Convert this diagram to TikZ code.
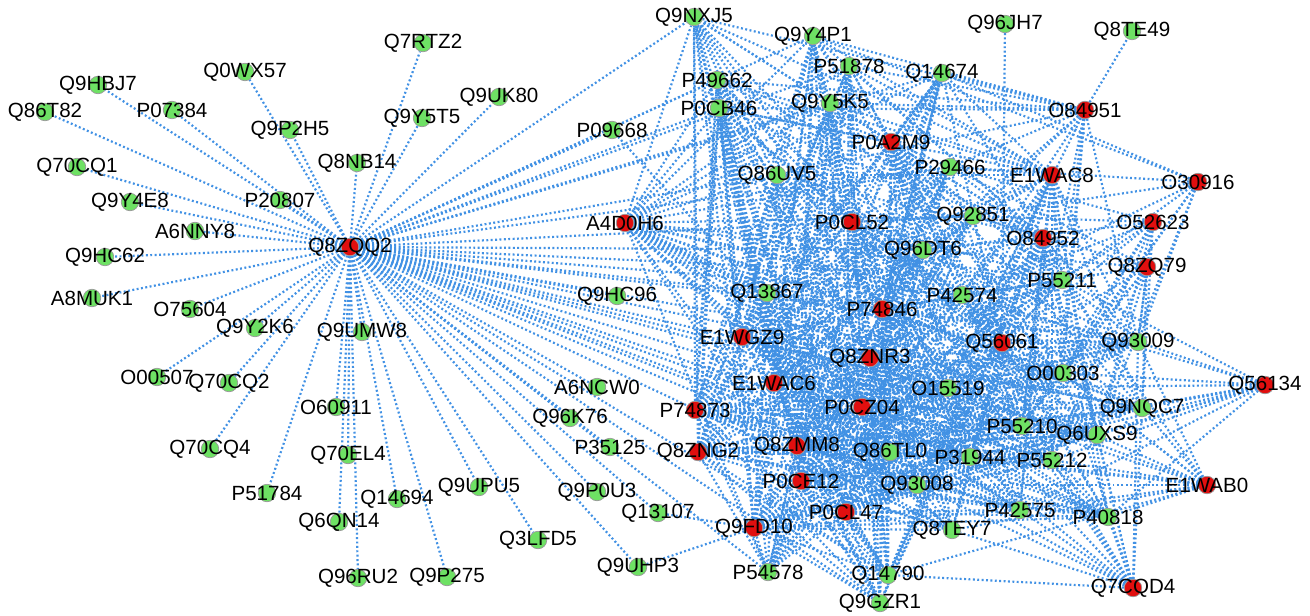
\documentclass[tikz,border=0pt]{standalone}
\usepackage{fontspec}
\setmainfont{Liberation Sans}
\usetikzlibrary{backgrounds}

\definecolor{edgeblue}{RGB}{65,145,228}
\definecolor{hostgreen}{RGB}{110,225,100}
\definecolor{pathred}{RGB}{225,15,15}

\tikzset{
  host/.style={circle,fill=hostgreen,draw=black!40,line width=0.4pt,minimum size=0.35cm,inner sep=0pt},
  pathogen/.style={host,fill=pathred},
  ppi/.style={draw=edgeblue,line width=1.25pt,dash pattern=on 1.1pt off 1.4pt},
  every label/.style={font=\fontsize{11.7}{12}\selectfont,inner sep=0pt}
}

% green partners sitting in the dense cluster
\def\hostcore{Q9NXJ5,Q9Y4P1,P51878,Q14674,P49662,P0CB46,Q9Y5K5,Q86UV5,P29466,Q92851,Q96DT6,Q13867,P42574,P55211,O15519,Q93009,O00303,Q9NQC7,P55210,Q6UXS9,Q86TL0,P31944,P55212,Q93008,P42575,P40818,Q8TEY7,Q14790,Q9GZR1,P54578}
% green partners of the hub only
\def\hostouter{Q9HBJ7,Q86T82,P07384,Q0WX57,Q7RTZ2,Q9P2H5,Q9Y5T5,Q9UK80,Q8NB14,Q70CQ1,Q9Y4E8,P20807,A6NNY8,Q9HC62,A8MUK1,O75604,Q9Y2K6,Q9UMW8,O00507,Q70CQ2,O60911,Q70CQ4,Q70EL4,P51784,Q14694,Q6QN14,Q96RU2,Q9P275,Q9UPU5,Q3LFD5,Q9UHP3,Q9P0U3,Q13107,P35125,Q96K76,A6NCW0,Q9HC96,P09668}

\begin{document}
\begin{tikzpicture}[x=0.02cm,y=-0.02cm]
\useasboundingbox (0,0) rectangle (1310,615);

% host proteins
\foreach \n/\px/\py in {Q9HBJ7/98/85,Q86T82/45/112,P07384/172/110,Q0WX57/245/72,Q7RTZ2/423/43,Q9P2H5/290/130,
  Q9Y5T5/422/118,Q9UK80/499/97,Q8NB14/357/163,Q70CQ1/77/167,Q9Y4E8/130/202,P20807/280/200,A6NNY8/195/231,
  Q9HC62/105/257,A8MUK1/92/298,O75604/190/309,Q9Y2K6/255/328,Q9UMW8/362/332,O00507/157/377,Q70CQ2/229/383,
  O60911/336/407,Q70CQ4/210/449,Q70EL4/348/455,P51784/267/493,Q14694/397/499,Q6QN14/339/522,Q96RU2/358/578,
  Q9P275/447/577,Q9UPU5/479/487,Q3LFD5/538/540,Q9UHP3/638/567,Q9P0U3/597/492,Q13107/658/513,P35125/610/447,
  Q96K76/570/418,A6NCW0/597/387,Q9HC96/617/296,P09668/612/130,
  Q9NXJ5/694/17,Q9Y4P1/813/36,P51878/849/66,Q14674/942/73,P49662/717/80,P0CB46/719/108,Q9Y5K5/830/103,
  Q86UV5/777/175,P29466/950/167,Q92851/973/216,Q96DT6/923/250,Q13867/767/293,P42574/962/295,P55211/1062/280,
  O15519/948/388,Q93009/1138/342,O00303/1063/373,Q9NQC7/1142/408,P55210/1022/426,Q6UXS9/1097/435,
  Q86TL0/890/452,P31944/970/457,P55212/1052/460,Q93008/917/485,P42575/1020/510,P40818/1108/517,
  Q8TEY7/952/530,Q14790/888/575,Q9GZR1/880/603,P54578/768/572,Q96JH7/1005/24,Q8TE49/1132/31}
  \node[host,label=center:\n] (\n) at (\px,\py) {};

% pathogen proteins
\foreach \n/\px/\py in {Q8ZQQ2/350/247,A4D0H6/625/223,P0A2M9/891/142,P0CL52/852/222,O84951/1085/110,
  E1WAC8/1052/175,O30916/1198/182,O52623/1153/222,O84952/1043/238,Q8ZQ79/1147/267,P74846/882/309,
  Q56061/1002/343,Q8ZNR3/870/358,E1WGZ9/742/337,E1WAC6/774/383,P0CZ04/862/407,P74873/695/410,
  Q8ZNG2/698/452,Q8ZMM8/797/446,P0CE12/801/481,P0CL47/846/512,Q9FD10/754/528,Q56134/1265/385,
  E1WAB0/1207/485,Q7CQD4/1133/588}
  \node[pathogen,label=center:\n] (\n) at (\px,\py) {};

\begin{scope}[on background layer]
% hub
\foreach \g in \hostouter \draw[ppi] (Q8ZQQ2) -- (\g);
\foreach \g in \hostcore \draw[ppi] (Q8ZQQ2) -- (\g);
% cluster
\foreach \r in {A4D0H6,P0A2M9,P0CL52,E1WAC8,O84952,P74846,Q56061,Q8ZNR3,E1WGZ9,E1WAC6,P0CZ04,P74873,Q8ZNG2,Q8ZMM8,P0CE12,P0CL47,Q9FD10}
  \foreach \g in \hostcore \draw[ppi] (\r) -- (\g);
% rim of the cluster
\foreach \g in {Q8TE49,Q9NXJ5,Q9Y4P1,P51878,Q14674,Q9Y5K5,P0CB46,P49662,P29466,Q92851,Q96DT6,P42574,P55211,O15519,P55210,Q93009,O00303,P55212,Q86UV5}
  \draw[ppi] (O84951) -- (\g);
\foreach \g in {P29466,Q92851,P55211,P42574,Q93009,O00303,Q14674,Q9Y4P1,P55210,Q6UXS9}
  \draw[ppi] (O30916) -- (\g);
\foreach \g in {P29466,Q92851,Q96DT6,P55211,P42574,O15519,P55210,Q93009,O00303,Q9NQC7,Q6UXS9,P55212}
  \draw[ppi] (O52623) -- (\g);
\foreach \g in {P29466,Q92851,Q96DT6,P55211,P42574,O15519,P55210,Q93009,O00303,Q9NQC7,Q6UXS9,P55212}
  \draw[ppi] (Q8ZQ79) -- (\g);
\foreach \g in {Q93009,O00303,Q9NQC7,Q6UXS9,P55212,P55210,P40818,P42575,O15519,P55211,P42574,P31944,Q86TL0,Q93008}
  \draw[ppi] (Q56134) -- (\g);
\foreach \g in {Q9NQC7,Q6UXS9,P55212,P55210,P40818,P42575,O15519,P31944,Q86TL0,Q93008,Q93009,O00303,P55211,P42574,Q8TEY7,Q14790}
  \draw[ppi] (E1WAB0) -- (\g);
\foreach \g in {Q14790,P40818,P42575,P55212,Q6UXS9,P55210,Q9NQC7,O00303,P31944,Q93008,Q8TEY7,Q86TL0,O15519,P55211,P42574,Q93009}
  \draw[ppi] (Q7CQD4) -- (\g);
% single extra links
\draw[ppi] (Q96JH7) -- (Q56061);
\draw[ppi] (Q9UHP3) -- (Q9FD10);
\draw[ppi] (Q13107) -- (Q9FD10);
\draw[ppi] (P09668) -- (P0CZ04);
\end{scope}
\end{tikzpicture}
\end{document}
